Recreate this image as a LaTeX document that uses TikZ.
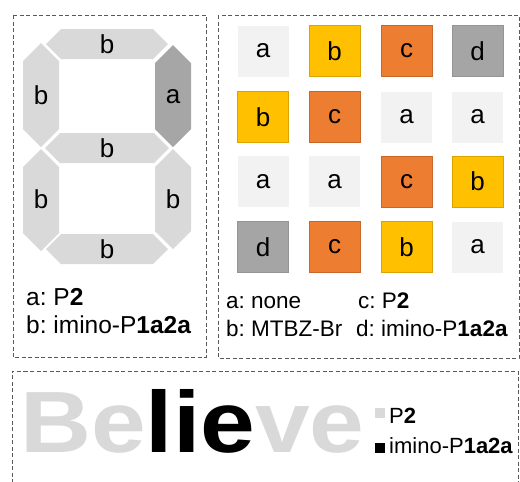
\documentclass[tikz,border=0pt]{standalone}
\usepackage{fontspec}
\setmainfont{Liberation Sans}
\frenchspacing
\definecolor{seglight}{HTML}{D9D9D9}
\definecolor{segdark}{HTML}{A6A6A6}
\definecolor{cA}{HTML}{F2F2F2}
\definecolor{cB}{HTML}{FFC000}
\definecolor{cBd}{HTML}{D9A300}
\definecolor{cC}{HTML}{ED7D31}
\definecolor{cCd}{HTML}{C9662A}
\definecolor{cD}{HTML}{A5A5A5}
\definecolor{frame}{HTML}{595959}
\tikzset{
  panel/.style={draw=frame, line width=0.9pt, dash pattern=on 4pt off 2.5pt},
  seglight/.style={fill=seglight},
  segdark/.style={fill=segdark},
  lab/.style={font=\fontsize{26}{30}\selectfont, inner sep=0pt},
  sq/.style={minimum size=51pt, inner sep=0pt, font=\fontsize{26}{30}\selectfont, line width=0.6pt},
  sqa/.style={sq, fill=cA},
  sqb/.style={sq, fill=cB, draw=cBd},
  sqc/.style={sq, fill=cC, draw=cCd},
  sqd/.style={sq, fill=cD, draw=cD!90!black},
  legl/.style={font=\fontsize{24.5}{28}\selectfont, inner sep=0pt, anchor=base west},
  leg/.style={font=\fontsize{22.5}{28}\selectfont, inner sep=0pt, anchor=base west},
  bigtxt/.style={font=\fontsize{87}{90}\bfseries\selectfont, inner sep=0pt, anchor=base west, xscale=1.13},
  smleg/.style={font=\fontsize{22}{24}\selectfont, inner sep=0pt, anchor=base west}
}
\begin{document}
\begin{tikzpicture}[x=1pt,y=-1pt]
\useasboundingbox (0,0) rectangle (520,482);
% panels
\draw[panel] (13,15) rectangle (206,357);
\draw[panel] (218,15) rectangle (519,358);
\draw[panel] (12,483) -- (12,371) -- (518,371) -- (518,483);

% seven segment display
\fill[seglight] (46,44) -- (61,29) -- (153,29) -- (168,44) -- (153,59) -- (61,59) -- cycle;
\fill[seglight] (45,148) -- (60,133) -- (154,133) -- (169,148) -- (154,163) -- (60,163) -- cycle;
\fill[seglight] (46,249) -- (61,234) -- (153,234) -- (168,249) -- (153,264) -- (61,264) -- cycle;
\fill[seglight] (41,43) -- (59,61) -- (59,129) -- (41,147) -- (23,129) -- (23,61) -- cycle;
\fill[seglight] (41,149) -- (59,167) -- (59,233) -- (41,251) -- (23,233) -- (23,167) -- cycle;
\fill[segdark] (173,45) -- (191,63) -- (191,129) -- (173,147) -- (155,129) -- (155,63) -- cycle;
\fill[seglight] (173,149) -- (191,167) -- (191,231) -- (173,249) -- (155,231) -- (155,167) -- cycle;
\node[lab] (s1) at (107,44) {b};
\node[lab] (s2) at (41,95) {b};
\node[lab] (s3) at (173,97) {a};
\node[lab] (s4) at (107,148) {b};
\node[lab] (s5) at (41,199) {b};
\node[lab] (s6) at (173,199) {b};
\node[lab] (s7) at (107,249) {b};
\node[legl] (l1) at (26,305) {a: P\textbf{2}};
\node[legl] (l2) at (26,333) {b: imino-P\textbf{1a2a}};

% grid
\node[sqa] (g11) at (263,51) {a};
\node[sqb] (g12) at (334.5,51) {b};
\node[sqc] (g13) at (406.5,51) {c};
\node[sqd] (g14) at (477.5,51) {d};
\node[sqb] (g21) at (263,117) {b};
\node[sqc] (g22) at (334.5,117) {c};
\node[sqa] (g23) at (406.5,117) {a};
\node[sqa] (g24) at (477.5,117) {a};
\node[sqa] (g31) at (263,181.5) {a};
\node[sqa] (g32) at (334.5,181.5) {a};
\node[sqc] (g33) at (406.5,181.5) {c};
\node[sqb] (g34) at (477.5,181.5) {b};
\node[sqd] (g41) at (263,247) {d};
\node[sqc] (g42) at (334.5,247) {c};
\node[sqb] (g43) at (406.5,247) {b};
\node[sqa] (g44) at (477.5,247) {a};
\node[leg] (r1) at (226,308) {a: none};
\node[leg] (r2) at (358,308) {c: P\textbf{2}};
\node[leg] (r3) at (226,336) {b: MTBZ-Br};
\node[leg] (r4) at (356,336) {d: imino-P\textbf{1a2a}};

% Believe
\node[bigtxt] (bel) at (20,452) {\textcolor{seglight}{Be}\textcolor{black}{lie}\textcolor{seglight}{ve}};
\fill[seglight] (375,408) rectangle (385,418);
\fill[black] (375,443) rectangle (385,453);
\node[smleg] (p2) at (389,423) {P\textbf{2}};
\node[smleg] (im) at (389,453) {imino-P\textbf{1a2a}};
\end{tikzpicture}
\end{document}
